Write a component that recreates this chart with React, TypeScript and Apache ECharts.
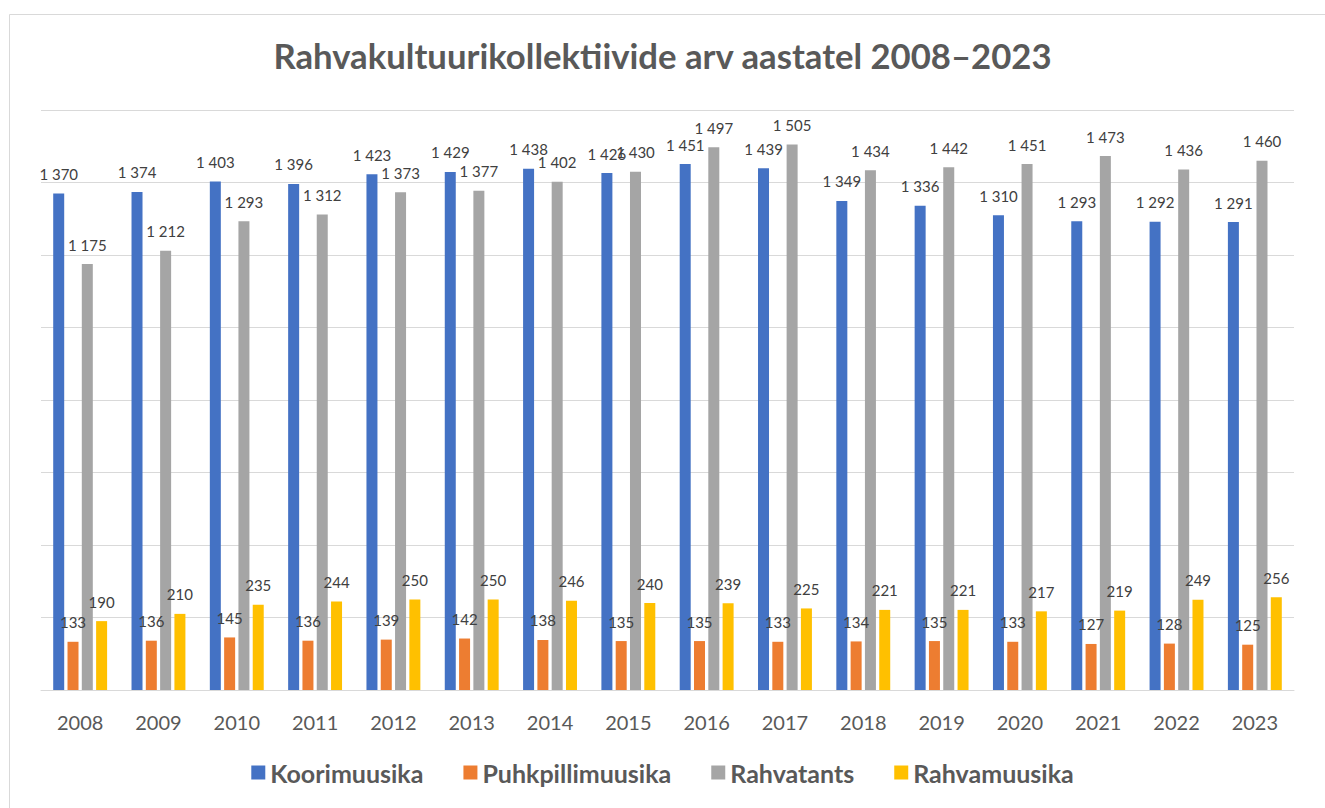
import React, { useEffect, useRef } from "react";
import * as echarts from "echarts";

const years = ["2008","2009","2010","2011","2012","2013","2014","2015","2016","2017","2018","2019","2020","2021","2022","2023"];
const koorimuusika = [1370,1374,1403,1396,1423,1429,1438,1426,1451,1439,1349,1336,1310,1293,1292,1291];
const puhkpillimuusika = [133,136,145,136,139,142,138,135,135,133,134,135,133,127,128,125];
const rahvatants = [1175,1212,1293,1312,1373,1377,1402,1430,1497,1505,1434,1442,1451,1473,1436,1460];
const rahvamuusika = [190,210,235,244,250,250,246,240,239,225,221,221,217,219,249,256];

const seriesNames = ["Koorimuusika", "Puhkpillimuusika", "Rahvatants", "Rahvamuusika"];
const colors = ["#4472C4", "#ED7D31", "#A5A5A5", "#FFC000"];

const fmt = (v: number) => String(v).replace(/\B(?=(\d{3})+(?!\d))/g, " ");

export default function App() {
  const ref = useRef<HTMLDivElement>(null);
  useEffect(() => {
    if (!ref.current) return;
    const chart = echarts.init(ref.current, null, { renderer: "svg" });
    const datas = [koorimuusika, puhkpillimuusika, rahvatants, rahvamuusika];
    chart.setOption({
      animation: false,
      backgroundColor: "#ffffff",
      color: colors,
      title: {
        text: "Rahvakultuurikollektiivide arv aastatel 2008–2023",
        left: "center",
        top: 33,
        textStyle: { fontFamily: "Lato", fontWeight: "bold", fontSize: 34.7, color: "#595959" },
      },
      graphic: [
        {
          type: "rect",
          shape: { x: 9.5, y: 14.5, width: 1400, height: 900 },
          style: { fill: "none", stroke: "#d9d9d9", lineWidth: 1 },
          silent: true,
        },
      ],
      legend: {
        bottom: 18,
        left: "center",
        itemWidth: 14,
        itemHeight: 14,
        itemGap: 40,
        icon: "rect",
        textStyle: { fontFamily: "Lato", fontWeight: "bold", fontSize: 25, color: "#595959" },
        data: seriesNames,
      },
      grid: { left: 41, right: 31, top: 110, bottom: 118 },
      xAxis: {
        type: "category",
        data: years,
        axisLine: { show: true, lineStyle: { color: "#d9d9d9", width: 1 } },
        axisTick: { show: false },
        axisLabel: { fontFamily: "Lato", fontSize: 20, color: "#595959", margin: 22 },
      },
      yAxis: {
        type: "value",
        min: 0,
        max: 1600,
        interval: 200,
        axisLabel: { show: false },
        axisLine: { show: false },
        axisTick: { show: false },
        splitLine: { lineStyle: { color: "#d9d9d9", width: 1 } },
      },
      series: seriesNames.map((name, i) => ({
        name,
        type: "bar",
        data: datas[i],
        barWidth: 11,
        barGap: "30%",
        itemStyle: { color: colors[i] },
        label: {
          show: true,
          position: "top",
          distance: 12,
          fontFamily: "Lato",
          fontSize: 15,
          color: "#404040",
          formatter: (p: any) => fmt(p.value),
        },
      })),
    });
    return () => chart.dispose();
  }, []);
  return <div ref={ref} style={{ position: "absolute", left: 0, top: 0, width: 1325, height: 808 }} />;
}
